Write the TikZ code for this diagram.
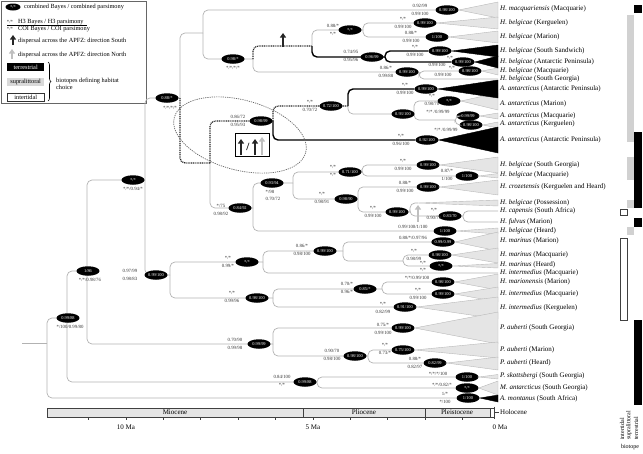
\documentclass[tikz,border=0pt]{standalone}
\usepackage{fontspec}
\setmainfont{Liberation Serif}
\usetikzlibrary{shapes.geometric, arrows.meta, decorations.pathreplacing}

\newcommand{\taxon}[2]{\textit{#1} (#2)}

\tikzset{
  br/.style={draw=black!30, line width=0.7pt, rounded corners=5pt},
  brk/.style={draw=black, line width=1.4pt, rounded corners=5pt},
  dsp/.style={draw=black!85, line width=1.2pt, dash pattern=on 1pt off 0.8pt, rounded corners=5pt},
  supp/.style={ellipse, fill=black, text=white, font=\fontsize{4.4}{5}\selectfont,
    inner xsep=0pt, inner ysep=0pt, minimum width=23pt, minimum height=9.5pt},
  bv/.style={font=\fontsize{4.8}{5}\selectfont, inner sep=0pt, text=black!80},
  tip/.style={font=\fontsize{7}{8}\selectfont, anchor=west, inner sep=0pt},
  wdg/.style={fill=black!10, draw=black!28, line width=0.4pt},
  wdgk/.style={fill=black, draw=black, line width=0.4pt},
  lgd/.style={font=\fontsize{6.3}{7.5}\selectfont, anchor=west, inner sep=0pt},
  dispk/.style={-{Triangle[width=6pt,length=4.5pt]}, line width=2.6pt, draw=black!85},
  dispg/.style={dispk, draw=black!25},
  bar/.style={font=\fontsize{6}{7}\selectfont, inner sep=0pt},
}

\begin{document}
\begin{tikzpicture}[x=1pt, y=-1pt]
\useasboundingbox (0,0) rectangle (643,453);

% legend
\draw[black!60, line width=0.6pt] (1,1) rectangle (146,103);
\node[supp, minimum width=15pt, minimum height=7pt] (lgsupp) at (13,7) {*/*};
\node[lgd] (lg1) at (24,7) {combined Bayes / combined parsimony};
\node[bv] (lg2a) at (10,21.5) {*/*};
\node[lgd] (lg2) at (18,22) {H3 Bayes / H3 parsimony};
\draw[line width=0.4pt] (7,25.3) -- (87,25.3);
\node[bv] (lg3a) at (10,29) {*/*};
\node[lgd] (lg3) at (18,29.5) {COI Bayes / COI parsimony};
\coordinate (lgka) at (13,45); \coordinate (lgkb) at (13,35);
\draw[dispk] (lgka) -- (lgkb);
\node[lgd] (lg4) at (18,41) {dispersal across the APFZ: direction South};
\coordinate (lgga) at (12,59); \coordinate (lggb) at (12,49);
\draw[dispg] (lgga) -- (lggb);
\node[lgd] (lg5) at (18,55) {dispersal across the APFZ: direction North};
\node[lgd, fill=black, text=white, minimum width=37pt, minimum height=8pt, inner xsep=1.5pt] (lgter) at (7,67) {terrestrial};
\node[lgd, fill=black!15, minimum width=37pt, minimum height=8pt, inner xsep=1.5pt] (lgsup) at (7,82) {supralittoral};
\node[lgd, draw=black!80, line width=0.6pt, minimum width=37pt, minimum height=8pt, inner xsep=1.5pt] (lgint) at (7,97) {intertidal};
\draw[decorate, decoration={brace, amplitude=3pt}, line width=0.6pt] (48,62) -- (48,101);
\node[lgd, align=left] (lg6) at (56,84) {biotopes defining habitat\\choice};

% node positions of the tree
\coordinate (r0) at (22,343);
\coordinate (R) at (47,343);
\coordinate (n1) at (67,318);
\coordinate (n2) at (87,271);
\coordinate (n3) at (145,180);
\coordinate (n4) at (180,98);
\coordinate (n5) at (170,275);
\coordinate (n6) at (203,33);
\coordinate (n7) at (210,163);
\coordinate (n8) at (253,59);
\coordinate (n9) at (312,46);
\coordinate (n10) at (419,72);
\coordinate (n11) at (363,30);
\coordinate (n12) at (385,57);
\coordinate (n13) at (273,121);
\coordinate (n14) at (253,208);
\coordinate (n15) at (348,106);
\coordinate (n16) at (414,114);
\coordinate (n17) at (455,120);
\coordinate (n18) at (293,183);
\coordinate (n19) at (362,172);
\coordinate (n20) at (358,199);
\coordinate (n21) at (410,212);
\coordinate (n22) at (463,216);
\coordinate (n23) at (263,262);
\coordinate (n24) at (273,298);
\coordinate (n25) at (343,251);
\coordinate (n26) at (403,261);
\coordinate (n27) at (382,289);
\coordinate (np) at (273,344);
\coordinate (n28) at (368,356);
\coordinate (npm) at (317,382);
\coordinate (sgeo) at (498,79);
\coordinate (poss) at (418,203);
\coordinate (capn) at (498,211);
\coordinate (fulv) at (498,222);
\coordinate (imq1) at (498,273);

% collapsed clades
\foreach \nm/\x/\y/\t in {qmacq/447/10/{0.98/100}, qkerg/425/23/{0.99/100}, qmar/437/37/{1/100},
  qssand/440/51/{0.99/100}, qantp/463/62/{0.99/100}, qbmq/470/71/{0.98/100},
  qaap1/426/89/{0.99/100}, qamar/449/101/{*/*}, qamq/468/116/{0.99/99}, qakg/471/125/{0.98/100},
  qaap2/427/140/{0.92/100}, qbsg/428/165/{0.99/100}, qbmq2/467/176/{1/100}, qcroz/428/187/{0.99/100},
  qbhrd/445/231/{1/100}, qmmar/443/242/{0.99/0.99}, qmmq/440/255/{0.98/100}, qmhrd/441/266/{*/*},
  qmion/443/282/{0.98/100}, qimq/443/294/{0.99/100}, qikg/405/307/{0.91/100},
  qpasg/403/328/{0.99/100}, qpamr/403/350/{0.75/100}, qpahd/435/363/{0.82/99},
  qpsko/467/377/{1/100}, qmant/467/388/{*/*}, qmont/468/398/{1/100}}
  \node[supp] (\nm) at (\x,\y) {\t};

\foreach \q/\a/\b in {qmacq/2/18, qkerg/17/29, qmar/31/43, qbmq/68/75, qamar/93/110,
  qamq/113/119, qakg/122/128, qbsg/157/173, qbmq2/173.5/178, qcroz/180/195, qbhrd/228/234,
  qmmar/232/251, qmmq/248/263, qmhrd/263.5/268, qmion/274/290, qimq/287/302, qikg/297/319,
  qpasg/312/344, qpamr/342/358, qpahd/357/370, qpsko/374.5/379, qmant/381/395}
  \draw[wdg] (\q.east) -- (498,\a) -- (498,\b) -- cycle;
\foreach \q/\a/\b in {qssand/45/57, qantp/56/68, qaap1/80/98, qaap2/127/153, qmont/395/402}
  \draw[wdgk] (\q.east) -- (498,\a) -- (498,\b) -- cycle;
\draw[wdg] (poss) -- (498,200) -- (498,206) -- cycle;

% branches
\draw[br] (r0) -- (R);
\foreach \a/\b in {R/n1, R/qmont, n1/n2, n1/npm, n2/n3, n2/np, n3/n4, n3/n5, n4/n6,
  n6/qmacq, n6/n8, n8/n10, n9/n11, n11/qkerg, n11/qmar, n10/qbmq, n10/sgeo, n7/n14,
  n15/n16, n16/qamar, n16/n17, n17/qamq, n17/qakg, n14/n18, n14/qbhrd, n18/n19, n18/n20,
  n19/qbsg, n19/qbmq2, n20/qcroz, n20/n21, n21/poss, n21/n22, n22/capn, n22/fulv,
  n5/n23, n5/n24, n23/n25, n23/imq1, n25/qmmar, n25/n26, n26/qmmq, n26/qmhrd,
  n24/n27, n24/qikg, n27/qmion, n27/qimq, np/qpasg, np/n28, n28/qpamr, n28/qpahd,
  npm/qpsko, npm/qmant}
  \draw[br] (\a) |- (\b);
% Antarctic Peninsula lineages
\foreach \a/\b in {n9/n12, n12/qssand, n12/qantp, n13/qaap2, n15/qaap1}
  \draw[brk] (\a) |- (\b);
% dispersal route
\foreach \a/\b in {n4/n7, n8/n9, n7/n13, n13/n15}
  \draw[dsp] (\a) |- (\b);

% support at the nodes
\foreach \nm/\x/\y/\t in {qn1/68/318/{0.99/88}, qn2/88/271/{1/86}, qn3/133/180/{*/*},
  qn4/167/98/{0.88/*}, qn5/156/275/{0.99/100}, qn8/233/59/{0.98/*}, qn10/407/72/{0.99/100},
  qn11/350/30/{*/*}, qn12/372/57/{0.96/99}, qn13/261/121/{0.98/99}, qn14/240/208/{0.84/92},
  qn15/331/106/{0.72/100}, qn16/403/114/{0.93/100}, qn18/272/183/{0.93/94},
  qn19/350/172/{0.71/100}, qn20/346/199/{0.98/90}, qn21/397/212/{0.99/100},
  qn22/450/216/{0.83/70}, qn23/247/262/{*/*}, qn24/257/298/{0.98/100},
  qn25/325/251/{0.99/100}, qn27/365/289/{0.85/*}, qnp/259/344/{0.99/99},
  qn28/355/356/{0.98/100}, qnpm/305/382/{0.99/88}}
  \node[supp] (\nm) at (\x,\y) {\t};

% H3 above, COI below
\foreach \x/\y/\t/\b [count=\i] in {420/10/{0.92/99}/{0.99/100}, 403/23/{*/*}/{0.99/100},
  411/37/{0.88/*}/{0.99/100}, 415/51/{*/*}/{0.99/100},
  386/72/{0.86/*}/{0.99/88}, 333/30/{0.88/*}/{*/*},
  351/56/{0.74/95}/{0.95/96}, 405/89/{*/*}/{0.99/100}, 432/100/{*/*}/{0.98/70},
  310/106/{*/*}/{0.70/72}, 238/121/{0.86/72}/{0.95/93}, 401/140/{*/*}/{0.96/100},
  403/165/{*/*}/{0.99/100}, 447/175/{0.87/*}/{1/100}, 333/171/{*/*}/{*/*},
  405/187/{0.88/*}/{0.99/100}, 322/198/{*/*}/{0.98/91}, 373/212/{*/*}/{0.99/100},
  434/214/{*/*}/{0.90/78}, 221/210/{*/75}/{0.98/92}, 130/275/{0.97/99}/{0.98/83},
  228/262/{*/*}/{0.99/*}, 302/250/{0.86/*}/{0.98/100}, 414/255/{*/*}/{0.98/99},
  232/297/{*/*}/{0.99/96}, 347/288/{0.70/*}/{0.96/*}, 418/294/{*/*}/{0.99/100},
  383/308/{*/*}/{0.82/99}, 235/344/{0.70/90}/{0.99/98}, 383/329/{0.75/*}/{0.99/100},
  332/355/{0.90/70}/{0.98/100}, 385/349/{*/*}/{0.73/*}, 415/363/{0.88/*}/{0.82/97},
  282/381/{0.84/100}/{*/*}, 445/398/{1/*}/{*/100}}
{
  \node[bv] (ha\i) at (\x,\y-3.7) {\t};
  \node[bv] (hb\i) at (\x,\y+3.7) {\b};
}
\foreach \x/\y/\t [count=\i] in {233/67.5/{*/*/*/*}, 170/107.5/{*/*/*/*}, 133/188.5/{*/*/0.94/*},
  90/279.5/{*/*/0.98/76}, 70/326.5/{*/100/0.99/80}, 270/191.5/{*/98}, 273/198.5/{0.70/72},
  450/58.3/{*/*}, 437/65.3/{0.99/100}, 452/67.7/{*/*}, 443/74.7/{0.99/100},
  438/111.5/{*/* /0.99/99}, 446/129.5/{*/* /0.99/99}, 413/226.5/{0.99/100/1/100},
  413/237.5/{0.88/*/0.97/96}, 423/262.5/{*/*}, 423/269.5/{*/*}, 417/278/{*/*/0.99/100},
  438/373.5/{*/*/*/100}, 442/384.5/{*/*/0.82/*}}
  \node[bv] (hs\i) at (\x,\y) {\t};

% dispersal arrows and the boxed summary
\coordinate (ak1) at (283,47); \coordinate (ak2) at (283,33);
\draw[dispk] (ak1) -- (ak2);
\coordinate (ag1) at (418,222); \coordinate (ag2) at (418,205);
\draw[dispg] (ag1) -- (ag2);
\draw[black!60, line width=0.7pt, dash pattern=on 1.2pt off 1pt, rotate around={-15:(240,135)}]
  (240,135) ellipse [x radius=68, y radius=35];
\node[draw, fill=white, line width=0.7pt, minimum width=34pt, minimum height=23pt, inner sep=0pt] (abox) at (252,144.5) {};
\draw[dispk] (241,155) -- (241,139);
\node[font=\fontsize{11}{12}\selectfont\bfseries, inner sep=0pt] (aslash) at (248,147) {/};
\draw[dispk] (255,155) -- (255,139);
\draw[dispg] (262,155) -- (262,137);

% taxa
\foreach \y/\g/\l [count=\i] in {9/H. macquariensis/Macquarie, 23/H. belgicae/Kerguelen,
  37/H. belgicae/Marion, 51/H. belgicae/South Sandwich, 62/H. belgicae/Antarctic Peninsula,
  71/H. belgicae/Macquarie, 79/H. belgicae/South Georgia, 89/A. antarcticus/Antarctic Peninsula,
  104/A. antarcticus/Marion, 116/A. antarcticus/Macquarie, 124/A. antarcticus/Kerguelen,
  140/A. antarcticus/Antarctic Peninsula, 165/H. belgicae/South Georgia, 175/H. belgicae/Macquarie,
  187/H. crozetensis/Kerguelen and Heard, 203/H. belgicae/Possession, 211/H. capensis/South Africa,
  222/H. fulvus/Marion, 231/H. belgicae/Heard, 241/H. marinus/Marion, 255/H. marinus/Macquarie,
  265/H. marinus/Heard, 273/H. intermedius/Macquarie, 282/H. marionensis/Marion,
  294/H. intermedius/Macquarie, 308/H. intermedius/Kerguelen, 328/P. auberti/South Georgia,
  350/P. auberti/Marion, 363/P. auberti/Heard, 376/P. skottsbergi/South Georgia,
  388/M. antarcticus/South Georgia, 399/A. montanus/South Africa}
  \node[tip] (t\i) at (500,\y) {\taxon{\g}{\l}};

% time scale
\draw[draw=black!75, fill=black!10, line width=0.8pt] (47,408) rectangle (490,417);
\foreach \x in {303,425}
  \draw[black!75, line width=0.8pt] (\x,408) -- (\x,417);
\draw[black!75, line width=0.5pt] (490,408) -- (494,408) (490,417) -- (494,417);
\draw[black!75, line width=0.8pt] (494,406.5) -- (494,418.5);
\draw[black!75, line width=0.5pt] (494,412.5) -- (499,412.5);
\foreach \k in {1,...,11}
  \draw[black!75, line width=0.7pt] (500-37.4*\k,417) -- ++(0,3);
\node[tip, anchor=center] (ep1) at (175,412.5) {Miocene};
\node[tip, anchor=center] (ep2) at (364,412.5) {Pliocene};
\node[tip, anchor=center] (ep3) at (457,412.5) {Pleistocene};
\node[tip] (ep4) at (500,412.5) {Holocene};
\node[tip, anchor=center] (ma10) at (126,427) {10 Ma};
\node[tip, anchor=center] (ma5) at (313,427) {5 Ma};
\node[tip, anchor=center] (ma0) at (500,427) {0 Ma};

% biotopes
\fill[black] (634,5) rectangle (642,13);
\fill[black!18] (627,15) rectangle (634,142);
\fill[black] (634,132) rectangle (642,208);
\fill[black!18] (627,157) rectangle (634,180);
\fill[black!18] (627,200) rectangle (634,208);
\draw[black!75, line width=0.6pt, fill=white] (620,209) rectangle (627,215);
\fill[black] (634,218) rectangle (642,227);
\fill[black!18] (627,227) rectangle (634,235);
\draw[black!75, line width=0.6pt, fill=white] (620,238) rectangle (627,320);
\fill[black] (634,320) rectangle (642,405);
\node[bar, rotate=90, anchor=west] (bi1) at (622,440) {intertidal};
\node[bar, rotate=90, anchor=west] (bi2) at (629,440) {supralittoral};
\node[bar, rotate=90, anchor=west] (bi3) at (636,440) {terrestrial};
\node[bar] (bi4) at (630,447.5) {biotope};
\end{tikzpicture}
\end{document}
